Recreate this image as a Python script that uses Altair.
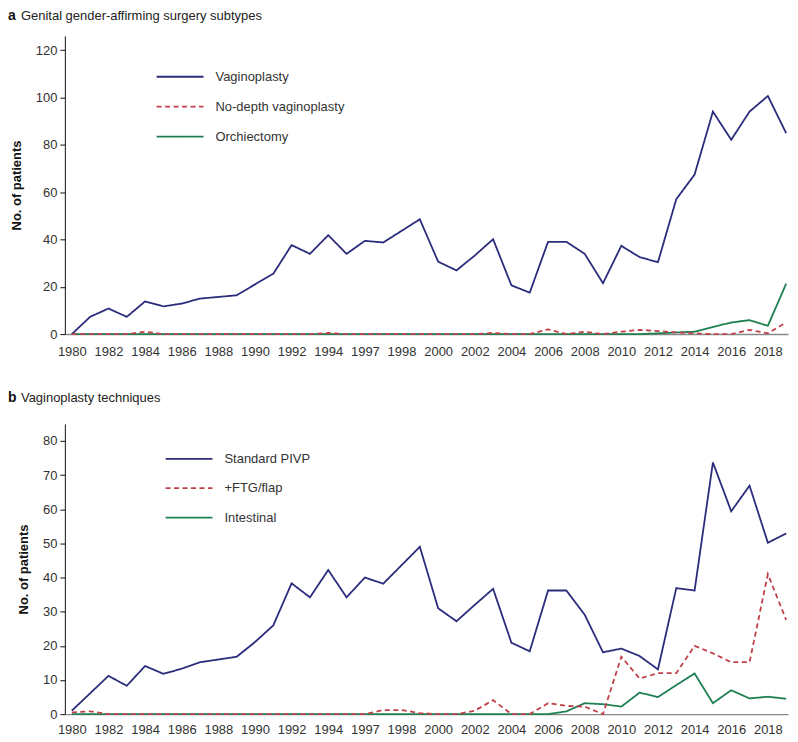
import altair as alt
import pandas as pd

years = list(range(1980, 2020))

# Panel a
a_vaginoplasty = [0, 7.3, 10.8, 7.3, 13.8, 11.7, 12.9, 15, 15.7, 16.4,
                  21, 25.5, 37.6, 33.9, 41.8, 33.9, 39.4, 38.7, 43.6, 48.5,
                  30.6, 26.9, 33.2, 40.1, 20.6, 17.5, 39, 39, 33.9, 21.5,
                  37.3, 32.5, 30.4, 57, 67.4, 94, 82.1, 94, 100.6, 84.9]
a_nodepth = [0, 0, 0, 0, 1, 0, 0, 0, 0, 0,
             0, 0, 0, 0, 0.5, 0, 0, 0, 0, 0,
             0, 0, 0, 0.5, 0, 0, 2, 0, 1, 0,
             1, 1.8, 1.3, 0.7, 0.3, 0, 0, 1.8, 0.3, 4.9]
a_orchiectomy = [0] * 32 + [0.3, 0.7, 1, 3, 4.9, 5.9, 3.5, 21.3]

# Panel b
b_pivp = [1, 6.1, 11.2, 8.3, 14.1, 11.8, 13.3, 15.2, 16, 16.8,
          21.1, 26, 38.3, 34.2, 42.2, 34.2, 40, 38.2, 43.6, 49,
          31, 27.2, 32, 36.7, 20.9, 18.4, 36.2, 36.2, 29.1, 18.1,
          19.2, 17, 13.1, 36.9, 36.2, 73.7, 59.4, 66.9, 50.2, 52.9]
b_ftg = [0.5, 0.8, 0, 0, 0, 0, 0, 0, 0, 0,
         0, 0, 0, 0, 0, 0, 0, 1.2, 1.2, 0.3,
         0, 0, 1, 4.1, 0, 0, 3.2, 2.4, 2.2, 0,
         16.8, 10.4, 12, 12, 20, 17.8, 15.2, 15.2, 41, 27.6]
b_intestinal = [0] * 27 + [0.8, 3.2, 2.9, 2.2, 6.3, 5, 8.5, 11.9, 3.2, 7, 4.6, 5.1, 4.5]

a_series = ["Vaginoplasty", "No-depth vaginoplasty", "Orchiectomy"]
b_series = ["Standard PIVP", "+FTG/flap", "Intestinal"]

x_tick_values = list(range(1980, 2019, 2))
x_tick_labels = ["1980", "1982", "1984", "1986", "1988", "1990", "1992", "1994", "1997",
                 "1998", "2000", "2002", "2004", "2006", "2008", "2010", "2012", "2014",
                 "2016", "2018"]

a_yticks = [0, 20, 40, 60, 80, 100, 120]
b_yticks = [0, 10, 20, 30, 40, 50, 60, 70, 80]

colors = ["#2b2d7c", "#c0404a", "#1e7f52"]
dashes = [[1, 0], [5, 3.5], [1, 0]]

FONT = "Liberation Sans"
label_expr = ("[" + ",".join(f"'{l}'" for l in x_tick_labels) + "][indexof(["
              + ",".join(str(v) for v in x_tick_values) + "], datum.value)]")


def make_df(series_names, values):
    rows = []
    # draw order: first, third, then dashed second on top
    for idx in [0, 2, 1]:
        for y, v in zip(years, values[idx]):
            rows.append({"year": y, "count": v, "series": series_names[idx]})
    return pd.DataFrame(rows)


def panel(series_names, values, ymax, yticks, letter, title, lx, lrange, height, ty, lpad):
    df = make_df(series_names, values)
    cscale = alt.Scale(domain=series_names, range=colors)
    dscale = alt.Scale(domain=series_names, range=dashes)
    lines = alt.Chart(df).mark_line(strokeWidth=1.8, clip=False).encode(
        x=alt.X("year:Q",
                scale=alt.Scale(domain=[1979.62, 2019.1], nice=False, zero=False),
                axis=alt.Axis(values=x_tick_values, labelExpr=label_expr, ticks=False,
                              domainColor="#888", domainWidth=1.5, grid=False, title=None,
                              labelPadding=lpad, labelFontSize=13, labelFont=FONT,
                              labelColor="#333", labelFlush=False)),
        y=alt.Y("count:Q",
                scale=alt.Scale(domain=[0, ymax], nice=False),
                axis=alt.Axis(values=yticks, grid=False, title="No. of patients",
                              titleFont=FONT, titleFontSize=13, titleFontWeight="bold",
                              titleColor="#111", titlePadding=12,
                              domainColor="#111", tickColor="#111", tickSize=5,
                              labelPadding=3, labelFontSize=13, labelFont=FONT,
                              labelColor="#333")),
        color=alt.Color("series:N", scale=cscale, legend=None),
        strokeDash=alt.StrokeDash("series:N", scale=dscale, legend=None),
    )
    ldf = pd.DataFrame({"series": series_names, "row": [0, 1, 2]})
    ly = alt.Y("row:Q", scale=alt.Scale(domain=[0, 2], range=lrange), axis=None)
    leg_sym = alt.Chart(ldf).mark_rule(strokeWidth=1.8).encode(
        x=alt.value(lx), x2=alt.value(lx + 47), y=ly,
        color=alt.Color("series:N", scale=cscale, legend=None),
        strokeDash=alt.StrokeDash("series:N", scale=dscale, legend=None),
    )
    leg_txt = alt.Chart(ldf).mark_text(align="left", baseline="middle", fontSize=13,
                                       font=FONT, color="#333").encode(
        x=alt.value(lx + 59), y=ly, text="series:N")
    tdf = pd.DataFrame({"letter": [letter], "title": [title]})
    t1 = alt.Chart(tdf).mark_text(align="left", baseline="middle", fontSize=14,
                                  fontWeight="bold", font=FONT, color="#111").encode(
        text="letter:N", x=alt.value(-57), y=alt.value(ty))
    t2 = alt.Chart(tdf).mark_text(align="left", baseline="middle", fontSize=13,
                                  font=FONT, color="#222").encode(
        text="title:N", x=alt.value(-44), y=alt.value(ty))
    legend = alt.layer(leg_sym, leg_txt)
    return alt.layer(lines, legend, t1, t2).resolve_scale(y="independent").properties(
        width=725, height=height)


top = panel(a_series, [a_vaginoplasty, a_nodepth, a_orchiectomy], 126, a_yticks,
            "a", "Genital gender-affirming surgery subtypes", 92, [41, 101], 299, -20, 11)
bottom = panel(b_series, [b_pivp, b_ftg, b_intestinal], 85, b_yticks,
               "b", "Vaginoplasty techniques", 101, [35, 94], 291, -26, 9)

chart = alt.vconcat(top, bottom, spacing=33).properties(padding=0).configure_view(
    stroke=None)

chart.save("out.html", embed_options={"renderer": "svg", "actions": False})
